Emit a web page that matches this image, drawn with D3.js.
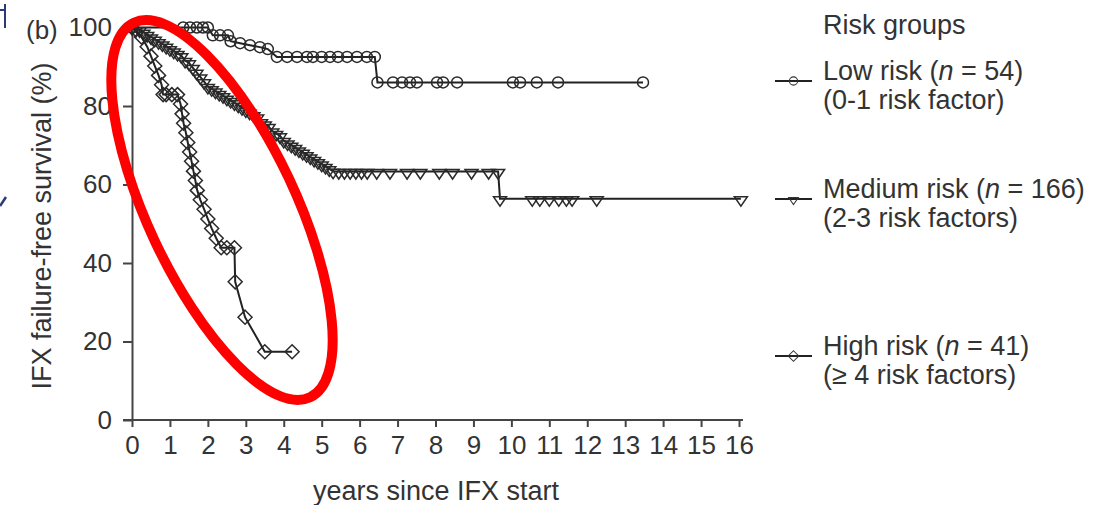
<!DOCTYPE html>
<html>
<head>
<meta charset="utf-8">
<script src="https://cdn.jsdelivr.net/npm/d3@7"></script>
<style>
  body { margin: 0; background: #fff; }
  text { font-family: "Liberation Sans", Arial, sans-serif; fill: #333; }
</style>
</head>
<body>
<div id="chart"></div>
<script>
// Kaplan-Meier points (years, % surviving)
var lowTimes = [0, 1.35, 1.53, 1.71, 1.87, 2.0, 2.13, 2.32, 2.53, 2.6, 2.85, 3.11, 3.37, 3.58,
  3.82, 4.09, 4.35, 4.61, 4.77, 5.0, 5.22, 5.43, 5.67, 5.93, 6.19, 6.4,
  6.47, 6.88, 7.12, 7.33, 7.51, 8.04, 8.2, 8.57, 10.04, 10.23, 10.67, 11.23, 13.47];
var lowSurv = [100, 100, 100, 100, 100, 100, 98, 98, 98, 96.5, 96, 95.5, 95, 94.5,
  92.5, 92.5, 92.5, 92.5, 92.5, 92.5, 92.5, 92.5, 92.5, 92.5, 92.5, 92.5,
  86, 86, 86, 86, 86, 86, 86, 86, 86, 86, 86, 86, 86];

var medTimes = [0, 0.1, 0.2, 0.3, 0.4, 0.5, 0.6, 0.7, 0.8, 0.9, 1.0, 1.1, 1.2, 1.3, 1.4,
  1.5, 1.6, 1.7, 1.8, 1.9, 2.0, 2.1, 2.2, 2.3, 2.4, 2.5, 2.6, 2.7, 2.8, 2.9,
  3.0, 3.1, 3.2, 3.3, 3.4, 3.5, 3.6, 3.7, 3.8, 3.9, 4.0, 4.1, 4.2, 4.3, 4.4,
  4.5, 4.6, 4.7, 4.8, 4.9, 5.0, 5.1, 5.2, 5.3, 5.45, 5.6, 5.75, 5.9, 6.05, 6.2,
  6.45, 6.8, 7.25, 7.6, 8.1, 8.45, 8.95, 9.4, 9.65,
  9.7, 10.55, 10.75, 11.0, 11.25, 11.45, 11.6, 12.25, 16.05];
var medSurv = [100, 99.4, 99.4, 98.8, 98.2, 97.6, 97.0, 96.4, 95.8, 95.2, 94.6, 94.0, 93.4, 92.8, 91.6,
  91.0, 89.8, 88.6, 87.4, 86.2, 85.0, 84.4, 83.8, 83.2, 82.6, 82.0, 81.4, 80.8, 80.2, 79.6,
  79.0, 78.4, 77.8, 77.2, 76.0, 75.4, 74.8, 73.6, 73.0, 72.4, 71.2, 70.6, 70.0, 69.4, 68.8,
  68.2, 67.6, 67.0, 66.4, 65.8, 65.2, 64.6, 64.0, 63.4, 63.3, 63.3, 63.3, 63.3, 63.3, 63.3,
  63.3, 63.3, 63.3, 63.3, 63.3, 63.3, 63.3, 63.3, 63.3,
  56.4, 56.4, 56.4, 56.4, 56.4, 56.4, 56.4, 56.4, 56.4];

var highTimes = [0, 0.25, 0.4, 0.5, 0.6, 0.7, 0.78, 0.82, 0.9, 1.05, 1.2, 1.28, 1.32, 1.36,
  1.42, 1.47, 1.52, 1.57, 1.62, 1.67, 1.72, 1.8, 1.9, 2.0, 2.1, 2.22, 2.35, 2.5, 2.7,
  2.72, 2.98, 3.5, 4.22];
var highSurv = [100, 97.6, 95.1, 92.7, 90.2, 87.8, 85.4, 82.9, 82.9, 82.9, 82.9, 80.5, 78, 75.6,
  73.2, 70.7, 68.3, 65.9, 63.4, 61, 58.5, 56.1, 53.7, 51.2, 48.8, 46.3, 43.9, 43.9, 43.9,
  35.2, 26.2, 17.4, 17.4];

var xTicks = d3.range(0, 17);
var yTicks = [0, 20, 40, 60, 80, 100];

var groupNames = ["low", "medium", "high"];
var legendLine1 = ["Low risk (", "Medium risk (", "High risk ("];
var legendN = ["54", "166", "41"];
var legendLine2 = ["(0-1 risk factor)", "(2-3 risk factors)", "(\u2265 4 risk factors)"];

var w = 1094;
var h = 505;
var fontSize = "26px";
var bigFont = "27px";

var svg = d3.select("#chart").append("svg").attr("width", w).attr("height", h);

var x = d3.scaleLinear().domain([0, 16]).range([132, 739]);
var y = d3.scaleLinear().domain([0, 100]).range([420, 27.5]);

// Axes
var xAxis = svg.append("g")
    .attr("transform", "translate(0," + y(0) + ")")
    .call(d3.axisBottom(x).tickValues(xTicks).tickSize(7).tickSizeOuter(0).tickPadding(9));
var yAxis = svg.append("g")
    .attr("transform", "translate(" + x(0) + ",0)")
    .call(d3.axisLeft(y).tickValues(yTicks).tickSize(9).tickSizeOuter(0).tickPadding(11));

[xAxis, yAxis].forEach(function(a) {
    a.selectAll("path, line").attr("stroke", "#444").attr("stroke-width", 2);
    a.selectAll("text").attr("font-size", fontSize).attr("fill", "#333")
        .attr("font-family", "Liberation Sans, Arial, sans-serif");
});
xAxis.select(".domain").attr("d", "M" + (x(0) - 9) + ",0H" + (x(16) + 4));

// Axis titles
svg.append("text")
    .attr("transform", "translate(51,226) rotate(-90)")
    .attr("text-anchor", "middle")
    .attr("font-size", bigFont)
    .text("IFX failure-free survival (%)");
svg.append("text")
    .attr("x", 436).attr("y", 500)
    .attr("text-anchor", "middle")
    .attr("font-size", bigFont)
    .text("years since IFX start");
svg.append("text")
    .attr("x", 26).attr("y", 39)
    .attr("font-size", "26px")
    .text("(b)");

// Marker shapes
var markers = {
    low: "M5.5,0A5.5,5.5 0 1,1 -5.5,0A5.5,5.5 0 1,1 5.5,0Z",
    medium: "M-6.5,-2L6.5,-2L0,7.5Z",
    high: "M0,-7L7,0L0,7L-7,0Z"
};

var series = [
    {name: "low", t: lowTimes, s: lowSurv},
    {name: "medium", t: medTimes, s: medSurv},
    {name: "high", t: highTimes, s: highSurv}
];

var line = d3.line()
    .x(function(d) { return x(d[0]); })
    .y(function(d) { return y(d[1]); });

series.forEach(function(sr) {
    var pts = sr.t.map(function(t, i) { return [t, sr.s[i]]; });
    svg.append("path")
        .datum(pts)
        .attr("d", line)
        .attr("fill", "none")
        .attr("stroke", "#222")
        .attr("stroke-width", 2);
    svg.append("g").selectAll("path")
        .data(pts)
        .enter()
        .append("path")
        .attr("d", markers[sr.name])
        .attr("transform", function(d) { return "translate(" + x(d[0]) + "," + y(d[1]) + ")"; })
        .attr("fill", "none")
        .attr("stroke", "#2a2a2a")
        .attr("stroke-width", 1.5);
});

// Legend
svg.append("text").attr("x", 823).attr("y", 34).attr("font-size", bigFont).text("Risk groups");
var legendY = [81, 199, 356];
groupNames.forEach(function(g, i) {
    var ly = legendY[i];
    svg.append("line")
        .attr("x1", 775).attr("x2", 812).attr("y1", ly).attr("y2", ly)
        .attr("stroke", "#222").attr("stroke-width", 2);
    svg.append("path")
        .attr("d", markers[g])
        .attr("transform", "translate(793.5," + ly + ") scale(0.75)")
        .attr("fill", "none").attr("stroke", "#333").attr("stroke-width", 1.4);
    var t1 = svg.append("text").attr("x", 823).attr("y", ly - 1).attr("font-size", bigFont);
    t1.append("tspan").text(legendLine1[i]);
    t1.append("tspan").attr("font-style", "italic").text("n");
    t1.append("tspan").text(" = " + legendN[i] + ")");
    svg.append("text").attr("x", 823).attr("y", ly + 28).attr("font-size", bigFont).text(legendLine2[i]);
});

// Red annotation ellipse drawn over the figure
svg.append("ellipse")
    .attr("cx", 222).attr("cy", 210)
    .attr("rx", 207).attr("ry", 74)
    .attr("transform", "rotate(64.8,222,210)")
    .attr("fill", "none")
    .attr("stroke", "#f00")
    .attr("stroke-width", 10);

// Stray page marks at the left edge
svg.append("path").attr("d", "M0,10H5M5,4V28")
    .attr("stroke", "#2b3a78").attr("stroke-width", 2).attr("fill", "none");
svg.append("path").attr("d", "M0,206L6,197")
    .attr("stroke", "#2b3a78").attr("stroke-width", 2.5).attr("fill", "none");
</script>
</body>
</html>
